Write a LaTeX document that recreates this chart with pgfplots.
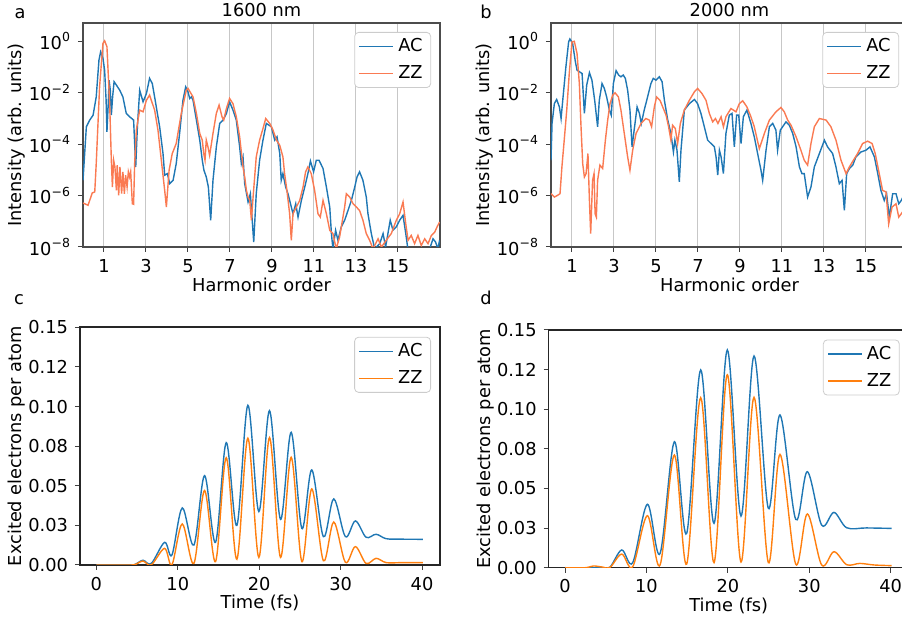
\documentclass[border=0pt]{standalone}
\usepackage{fontspec}
\setmainfont{DejaVu Sans}
\usepackage{pgfplots}
\pgfplotsset{compat=1.18}
\definecolor{acblue}{HTML}{1F77B4}
\definecolor{zzcoral}{HTML}{FA7A52}
\definecolor{zzorange}{HTML}{FF7F0E}
\newcommand\lbl{\fontsize{8.9}{10.7}\selectfont}

\pgfplotsset{
  panel/.style={
    scale only axis, clip=true,
    font=\lbl, tick label style={font=\lbl}, label style={font=\lbl},
    /pgf/number format/assume math mode=true,
    tick align=outside, major tick length=2.5pt,
    tick style={black!75, line width=0.5pt},
    axis line style={black!70, line width=0.8pt},
    xtick pos=bottom, ytick pos=left,
    every axis plot/.append style={line width=0.7pt},
    legend image code/.code={\draw[##1, line width=0.8pt] (0pt,0pt) -- (17pt,0pt);},
    legend cell align=left,
    legend style={at={(0.975,0.96)}, anchor=north east, draw=black!20,
      rounded corners=2pt, font=\lbl, inner xsep=2pt, inner ysep=1pt, row sep=1.5pt},
  },
  spec/.style={panel, width=178.5pt, height=112pt,
    xmin=0, xmax=17, ymin=-8, ymax=0.7,
    xtick={1,3,5,7,9,11,13,15},
    xmajorgrids, grid style={black!22, line width=0.5pt},
    ytick={-8,-6,-4,-2,0},
    yticklabels={10\textsuperscript{−8},10\textsuperscript{−6},10\textsuperscript{−4},10\textsuperscript{−2},10\textsuperscript{0}},
    xlabel={Harmonic order}, ylabel={Intensity (arb. units)},
    xlabel style={at={(axis description cs:0.5,-0.17)}, anchor=center},
    ylabel style={at={(axis description cs:-0.185,0.5)}, anchor=center},
    every axis title/.style={at={(axis description cs:0.5,1)}, anchor=base, yshift=3.3pt, font=\lbl},
  },
  exc/.style={panel, width=180pt, height=118.85pt,
    xmin=-2.01, xmax=42.21, ymin=0, ymax=0.15,
    xtick={0,10,20,30,40},
    ytick={0,0.025,0.05,0.075,0.1,0.125,0.15},
    yticklabels={0.00,0.03,0.05,0.08,0.10,0.12,0.15},
    xlabel={Time (fs)}, ylabel={Excited electrons per atom},
    xlabel style={at={(axis description cs:0.5,-0.16)}, anchor=center},
    ylabel style={at={(axis description cs:-0.176,0.5)}, anchor=center},
    axis line style={black!85, line width=0.8pt},
    every axis plot/.append style={smooth, tension=0.55},
  },
}

\begin{document}
\begin{tikzpicture}
\path[use as bounding box] (0,0) rectangle (451pt,311pt);

% ---- a: 1600 nm spectrum (log10 intensity)
\begin{axis}[spec, at={(41.5pt,187.5pt)}, anchor=south west, title={1600 nm}]
\addplot[acblue] coordinates {
 (0,-5.41)(0.16,-3.33)(0.32,-3.07)(0.48,-2.88)(0.63,-2.17)(0.76,-0.74)(0.84,-0.42)
 (0.95,-0.67)(1.03,-1.13)(1.10,-2.30)(1.14,-3.53)(1.21,-2.30)(1.24,-1.52)(1.30,-1.91)
 (1.35,-2.88)(1.41,-2.17)(1.48,-1.58)(1.59,-1.71)(1.75,-1.91)(1.90,-2.17)(2.06,-2.81)
 (2.22,-2.94)(2.41,-3.07)(2.51,-4.89)(2.59,-3.33)(2.70,-1.91)(2.86,-2.36)(3.02,-2.04)
 (3.17,-1.45)(3.30,-1.65)(3.41,-2.17)(3.65,-3.33)(3.81,-4.37)(3.89,-5.21)(4.02,-5.15)
 (4.13,-5.54)(4.29,-5.41)(4.44,-4.76)(4.60,-3.59)(4.76,-2.30)(4.89,-1.78)(5.00,-1.97)
 (5.08,-2.23)(5.16,-2.17)(5.24,-2.30)(5.40,-3.07)(5.56,-3.85)(5.68,-4.63)(5.76,-5.02)
 (5.87,-5.28)(5.97,-5.67)(6.08,-6.96)(6.19,-5.41)(6.35,-4.11)(6.51,-3.20)(6.67,-3.07)
 (6.83,-2.81)(6.98,-2.36)(7.14,-2.68)(7.30,-3.07)(7.46,-4.11)(7.54,-4.76)(7.62,-4.50)
 (7.70,-5.54)(7.86,-6.25)(7.97,-5.93)(8.13,-7.81)(8.25,-5.93)(8.41,-4.63)(8.57,-3.85)
 (8.73,-3.20)(8.97,-3.33)(9.13,-3.85)(9.24,-3.72)(9.37,-4.37)(9.44,-5.41)(9.52,-5.15)
 (9.65,-5.67)(9.76,-5.93)(9.92,-6.45)(10.00,-6.71)(10.13,-6.32)(10.24,-6.84)(10.40,-6.19)
 (10.56,-5.67)(10.71,-5.15)(10.83,-4.66)(10.98,-5.08)(11.11,-4.63)(11.24,-4.63)(11.43,-4.95)
 (11.59,-5.67)(11.75,-6.45)(11.83,-7.48)(11.90,-8.07)(12.03,-7.35)(12.14,-7.74)(12.30,-7.22)
 (12.46,-6.96)(12.62,-6.58)(12.78,-6.19)(12.94,-5.67)(13.05,-5.28)(13.17,-5.08)(13.33,-5.41)
 (13.49,-6.06)(13.57,-6.71)(13.73,-7.48)(13.89,-8.07)(14.13,-7.87)(14.29,-7.48)(14.41,-8.0)
 (14.52,-7.48)(14.63,-6.96)(14.76,-7.35)(14.92,-7.22)(15.08,-6.96)(15.24,-6.77)(15.37,-7.48)
 (15.48,-8.13)(16.03,-8.26)(16.51,-8.07)(16.67,-7.68)(16.79,-7.81)(16.90,-8.07)(16.98,-7.74)};
\addlegendentry{AC}
\addplot[zzcoral] coordinates {
 (0,-6.29)(0.24,-6.38)(0.44,-5.90)(0.56,-5.86)(0.63,-4.76)(0.79,-1.78)(0.95,-0.09)
 (1.03,0.01)(1.14,-0.22)(1.27,-2.43)(1.35,-4.63)(1.40,-5.67)(1.46,-4.63)(1.52,-4.89)
 (1.59,-5.80)(1.63,-4.82)(1.70,-5.99)(1.76,-4.89)(1.84,-5.93)(1.90,-5.08)(1.97,-5.93)
 (2.03,-5.21)(2.10,-5.67)(2.16,-5.08)(2.22,-5.28)(2.27,-5.08)(2.35,-6.32)(2.41,-6.34)
 (2.46,-4.76)(2.54,-3.46)(2.70,-2.68)(2.86,-2.75)(3.02,-2.30)(3.17,-2.10)(3.41,-2.68)
 (3.57,-3.46)(3.73,-4.63)(3.89,-5.80)(3.97,-6.45)(4.10,-5.02)(4.25,-4.37)(4.44,-3.98)
 (4.68,-2.81)(4.92,-1.91)(5.00,-1.84)(5.24,-2.17)(5.40,-2.81)(5.56,-3.59)(5.68,-3.85)
 (5.75,-4.37)(5.81,-4.63)(5.87,-3.85)(5.95,-4.11)(6.03,-4.44)(6.19,-3.59)(6.35,-2.81)
 (6.48,-2.49)(6.62,-2.94)(6.70,-3.07)(6.83,-2.62)(6.98,-2.23)(7.14,-2.43)(7.30,-2.94)
 (7.46,-3.72)(7.62,-4.89)(7.70,-5.28)(7.78,-5.80)(7.86,-6.06)(7.94,-6.19)(8.02,-6.96)
 (8.10,-6.06)(8.25,-4.50)(8.41,-3.85)(8.57,-3.40)(8.70,-3.01)(8.89,-3.20)(9.05,-3.46)
 (9.21,-3.85)(9.37,-4.05)(9.52,-4.50)(9.60,-5.15)(9.71,-5.80)(9.84,-6.71)(9.92,-7.74)
 (10.00,-6.71)(10.16,-6.45)(10.32,-6.19)(10.48,-5.67)(10.60,-5.08)(10.71,-4.89)(10.87,-5.15)
 (11.03,-5.80)(11.19,-6.71)(11.30,-6.84)(11.43,-6.19)(11.59,-6.71)(11.75,-7.35)(11.90,-7.48)
 (12.06,-8.07)(12.22,-7.61)(12.46,-6.45)(12.54,-5.93)(12.70,-6.06)(12.86,-6.32)(13.02,-6.45)
 (13.17,-6.58)(13.33,-6.96)(13.49,-7.48)(13.65,-7.74)(13.81,-8.07)(14.05,-7.68)(14.21,-8.0)
 (14.44,-7.74)(14.68,-7.48)(14.92,-6.96)(15.08,-6.71)(15.24,-6.25)(15.37,-7.10)(15.48,-7.74)
 (15.63,-7.55)(15.79,-7.87)(15.95,-7.55)(16.11,-7.94)(16.27,-7.68)(16.43,-7.87)(16.59,-7.55)
 (16.75,-7.42)(16.86,-7.22)(16.98,-7.03)};
\addlegendentry{ZZ}
\end{axis}

% ---- b: 2000 nm spectrum
\begin{axis}[spec, at={(275.5pt,187.5pt)}, anchor=south west, title={2000 nm}]
\addplot[acblue] coordinates {
 (0,-4.63)(0.05,-3.20)(0.16,-2.43)(0.27,-2.27)(0.40,-2.56)(0.48,-3.01)(0.56,-2.30)
 (0.71,-1.00)(0.84,-0.03)(0.90,0.08)(1.03,-0.09)(1.16,-0.80)(1.24,-1.13)(1.35,-1.19)
 (1.48,-1.26)(1.59,-2.81)(1.70,-1.71)(1.83,-1.23)(1.95,-1.52)(2.08,-2.30)(2.22,-3.33)
 (2.30,-2.30)(2.43,-1.65)(2.54,-1.84)(2.65,-2.17)(2.78,-2.68)(2.87,-2.88)(2.97,-1.65)
 (3.10,-1.15)(3.22,-1.32)(3.33,-1.39)(3.44,-1.32)(3.54,-1.45)(3.65,-1.91)(3.76,-2.68)
 (3.86,-4.11)(3.98,-3.33)(4.10,-2.56)(4.21,-2.81)(4.30,-3.20)(4.44,-2.68)(4.60,-2.17)
 (4.76,-1.65)(4.87,-1.45)(5.00,-1.52)(5.16,-1.39)(5.29,-1.58)(5.40,-2.30)(5.56,-3.07)
 (5.71,-3.59)(5.83,-4.31)(5.90,-3.85)(6.00,-4.24)(6.11,-5.47)(6.19,-4.24)(6.35,-2.68)
 (6.59,-2.43)(6.83,-2.27)(6.98,-2.43)(7.14,-2.81)(7.30,-3.33)(7.46,-3.85)(7.62,-3.98)
 (7.78,-4.11)(7.86,-4.50)(7.94,-5.21)(8.02,-4.24)(8.10,-4.50)(8.21,-5.15)(8.33,-3.59)
 (8.49,-2.88)(8.62,-2.81)(8.73,-4.11)(8.84,-2.88)(8.94,-2.88)(9.05,-3.98)(9.16,-2.94)
 (9.33,-2.68)(9.52,-3.20)(9.68,-3.72)(9.84,-4.37)(10.00,-5.02)(10.08,-5.41)(10.24,-4.24)
 (10.40,-3.33)(10.56,-3.20)(10.71,-3.46)(10.79,-4.24)(10.92,-3.46)(11.19,-3.14)(11.35,-3.27)
 (11.51,-3.59)(11.67,-4.11)(11.83,-4.89)(11.95,-5.15)(12.06,-5.15)(12.22,-6.06)(12.38,-5.67)
 (12.54,-4.89)(12.78,-4.37)(13.02,-3.85)(13.17,-4.11)(13.41,-4.37)(13.57,-4.89)(13.73,-5.54)
 (13.86,-5.41)(13.97,-6.58)(14.08,-5.15)(14.21,-4.95)(14.37,-4.82)(14.52,-4.50)(14.76,-4.31)
 (15.00,-4.24)(15.19,-4.11)(15.40,-4.50)(15.56,-5.15)(15.71,-5.80)(15.87,-6.19)(15.98,-5.93)
 (16.11,-6.84)(16.27,-5.93)(16.43,-5.93)(16.56,-6.32)(16.68,-6.19)(16.85,-5.90)(17.0,-6.2)};
\addlegendentry{AC}
\addplot[zzcoral] coordinates {
 (0,-5.93)(0.16,-6.06)(0.32,-5.99)(0.43,-5.93)(0.52,-4.89)(0.63,-3.85)(0.75,-2.68)
 (0.87,-1.26)(1.00,-0.03)(1.11,-0.01)(1.24,-0.48)(1.35,-1.65)(1.43,-3.33)(1.51,-4.76)
 (1.59,-5.28)(1.67,-5.15)(1.76,-4.37)(1.83,-6.19)(1.89,-7.48)(1.98,-5.41)(2.05,-5.15)
 (2.10,-6.71)(2.16,-6.84)(2.22,-5.41)(2.33,-4.82)(2.46,-4.95)(2.59,-3.85)(2.70,-3.07)
 (2.81,-2.43)(2.94,-2.10)(3.05,-2.01)(3.21,-2.17)(3.33,-2.68)(3.49,-3.59)(3.65,-4.50)
 (3.76,-5.02)(3.89,-4.24)(4.05,-3.59)(4.29,-3.20)(4.52,-3.01)(4.68,-3.07)(4.79,-3.33)
 (4.92,-2.56)(5.03,-2.17)(5.19,-2.30)(5.32,-2.56)(5.48,-2.88)(5.60,-3.33)(5.71,-3.85)
 (5.79,-3.27)(5.92,-3.40)(6.03,-3.98)(6.16,-3.20)(6.35,-2.68)(6.59,-2.30)(6.83,-1.97)
 (6.98,-1.84)(7.19,-2.04)(7.38,-2.30)(7.54,-2.81)(7.70,-3.14)(7.83,-3.01)(7.95,-3.20)
 (8.10,-2.94)(8.21,-3.33)(8.33,-2.94)(8.57,-2.62)(8.81,-2.75)(8.97,-2.43)(9.13,-2.32)
 (9.33,-2.56)(9.52,-2.94)(9.68,-3.33)(9.92,-4.18)(10.16,-3.59)(10.40,-3.07)(10.71,-2.75)
 (10.95,-2.58)(11.11,-2.75)(11.27,-3.07)(11.43,-3.27)(11.67,-3.72)(11.90,-4.24)(12.06,-4.63)
 (12.22,-4.82)(12.38,-3.98)(12.54,-3.33)(12.78,-3.01)(13.10,-3.07)(13.33,-3.33)(13.57,-3.85)
 (13.81,-4.63)(14.05,-5.15)(14.21,-4.89)(14.40,-4.63)(14.60,-4.37)(14.84,-3.98)(15.08,-3.89)
 (15.29,-3.98)(15.44,-4.37)(15.63,-5.15)(15.79,-5.80)(15.95,-5.86)(16.08,-7.10)(16.24,-6.45)
 (16.43,-6.32)(16.56,-6.84)(16.68,-6.71)(16.85,-6.5)(17.0,-6.8)};
\addlegendentry{ZZ}
\end{axis}

% ---- c: excited electrons, 1600 nm
\begin{axis}[exc, at={(40pt,28.5pt)}, anchor=south west]
\addplot[acblue] coordinates {
 (0,0)(4.0,0)(4.8,0.0005)(5.73,0.0030)(6.75,0.0010)(8.38,0.0143)(9.28,0.0063)
 (10.55,0.0360)(11.98,0.0126)(13.29,0.0564)(14.64,0.0143)(15.95,0.0772)(17.26,0.0250)
 (18.61,0.1008)(19.96,0.0337)(21.27,0.0974)(22.62,0.0288)(23.93,0.0837)(25.24,0.0231)
 (26.46,0.0600)(27.89,0.0179)(29.16,0.0417)(30.59,0.0179)(31.82,0.0278)(33.13,0.0175)
 (34.36,0.0194)(35.6,0.0166)(37.5,0.0163)(40.1,0.0162)};
\addlegendentry{AC}
\addplot[zzorange] coordinates {
 (0,0)(4.0,0)(4.8,0.0004)(5.73,0.0025)(6.75,0.0001)(8.38,0.0105)(9.28,0.0001)
 (10.55,0.0259)(11.98,0.0010)(13.29,0.0470)(14.64,0.0021)(15.95,0.0677)(17.26,0.0036)
 (18.61,0.0800)(19.96,0.0048)(21.27,0.0804)(22.62,0.0048)(23.93,0.0680)(25.24,0.0021)
 (26.46,0.0480)(27.89,0.0027)(29.16,0.0271)(30.59,0.0017)(31.82,0.0116)(33.13,0.0010)
 (34.36,0.0042)(35.6,0.0015)(37.5,0.0015)(40.1,0.0015)};
\addlegendentry{ZZ}
\end{axis}

% ---- d: excited electrons, 2000 nm
\begin{axis}[exc, at={(274.35pt,27.15pt)}, anchor=south west]
\addplot[acblue] coordinates {
 (0,0)(4.5,0)(5.53,0.0004)(6.96,0.0112)(8.31,0.0032)(10.11,0.0400)(11.67,0.0090)
 (13.43,0.0795)(14.94,0.0217)(16.66,0.1248)(18.30,0.0280)(19.93,0.1374)(21.61,0.0326)
 (23.21,0.1336)(24.97,0.0375)(26.40,0.0964)(28.33,0.0305)(29.76,0.0606)(31.52,0.0269)
 (33.03,0.0349)(34.59,0.0252)(37.0,0.0251)(40.1,0.0248)};
\addlegendentry{AC}
\addplot[zzorange] coordinates {
 (0,0)(2.5,0)(3.48,0.0011)(4.6,0.0004)(5.53,0.0002)(6.96,0.0086)(8.31,0.0006)
 (10.11,0.0328)(11.67,0.0017)(13.43,0.0711)(14.94,0.0023)(16.66,0.1073)(18.30,0.0032)
 (19.93,0.1218)(21.61,0.0036)(23.21,0.1075)(24.97,0.0032)(26.40,0.0715)(28.33,0.0023)
 (29.76,0.0339)(31.52,0.0017)(33.03,0.0101)(34.59,0.0019)(36.2,0.0027)(38.0,0.0017)(40.1,0.0013)};
\addlegendentry{ZZ}
\end{axis}

\node[font=\lbl, anchor=base] at (10pt,301.5pt) {a};
\node[font=\lbl, anchor=base] at (243pt,301.5pt) {b};
\node[font=\lbl, anchor=base] at (9.5pt,158.5pt) {c};
\node[font=\lbl, anchor=base] at (243pt,158.5pt) {d};
\end{tikzpicture}
\end{document}
